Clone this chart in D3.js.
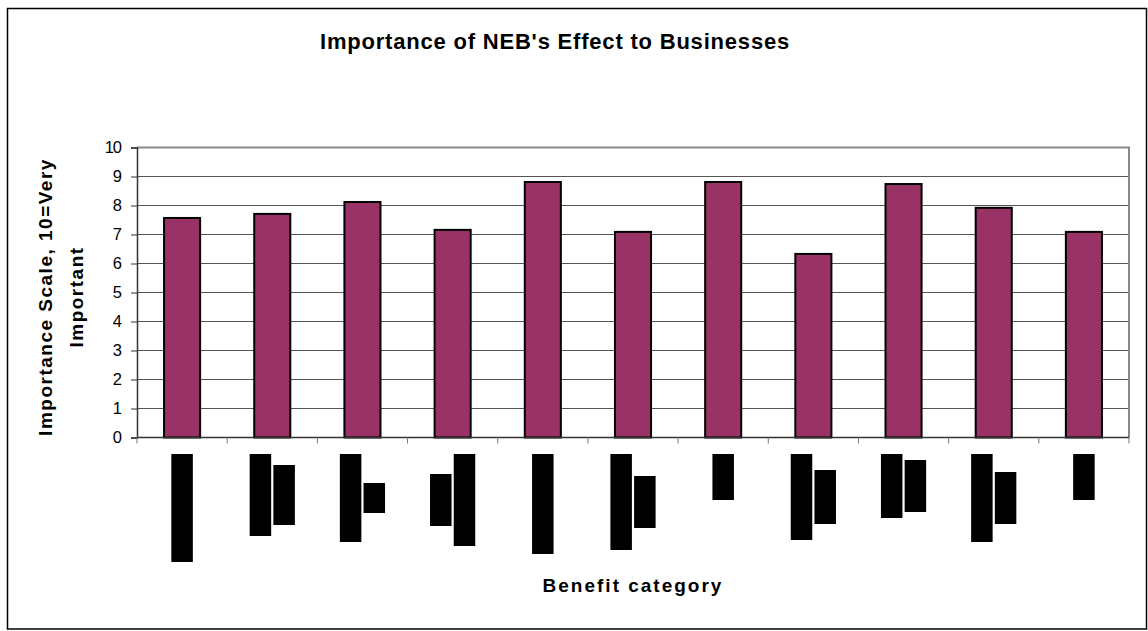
<!DOCTYPE html>
<html><head><meta charset="utf-8">
<script src="https://cdn.jsdelivr.net/npm/d3@7"></script>
<style>
html,body{margin:0;padding:0;background:#fff;}
text{font-family:"Liberation Sans",Arial,sans-serif;}
</style></head>
<body>
<svg id="chart" width="1148" height="631"></svg>
<script>
// ---- data ----
const title = "Importance of NEB's Effect to Businesses";
const yAxisTitle = ["Importance Scale, 10=Very", "Important"];
const xAxisTitle = "Benefit category";
const categories = ["C1","C2","C3","C4","C5","C6","C7","C8","C9","C10","C11"];
const values = [7.57, 7.71, 8.12, 7.16, 8.81, 7.09, 8.81, 6.33, 8.74, 7.92, 7.09];
const yTicks = [0,1,2,3,4,5,6,7,8,9,10];
// category labels are redacted in the source: relative length of each (rotated) label line
const redactedLabelLines = [
  [108], [82, 60], [88, 30], [52, 92], [100], [96, 52], [46], [86, 54], [64, 52], [88, 52], [46]
];

// ---- layout ----
const svg = d3.select("#chart");
const plot = {left: 137, right: 1129, top: 147.5, bottom: 437.5};

svg.append("rect").attr("x", 7.5).attr("y", 8.5).attr("width", 1139).attr("height", 620.5)
  .attr("fill", "#fff").attr("stroke", "#000").attr("stroke-width", 1.5);

const x = d3.scaleBand().domain(categories).range([plot.left, plot.right])
  .paddingInner(0.6).paddingOuter(0.3);
const y = d3.scaleLinear().domain([0, 10]).range([plot.bottom, plot.top]);

// gridlines
svg.append("g").selectAll("line").data(yTicks.filter(t => t > 0)).join("line")
  .attr("x1", plot.left).attr("x2", plot.right)
  .attr("y1", d => y(d)).attr("y2", d => y(d))
  .attr("stroke", "#555").attr("stroke-width", 1);

// plot border (top/right)
svg.append("path")
  .attr("d", `M${plot.left},${plot.top}H${plot.right}V${plot.bottom}`)
  .attr("fill", "none").attr("stroke", "#888").attr("stroke-width", 2);

// bars
svg.append("g").selectAll("rect").data(values).join("rect")
  .attr("x", (d, i) => x(categories[i]))
  .attr("y", d => y(d))
  .attr("width", x.bandwidth())
  .attr("height", d => y(0) - y(d))
  .attr("fill", "#993366").attr("stroke", "#000").attr("stroke-width", 2);

// y axis
const yAxis = d3.axisLeft(y).tickValues(yTicks).tickSize(6).tickPadding(10).tickFormat(d3.format("d"));
const gy = svg.append("g").attr("transform", `translate(${plot.left},0)`).call(yAxis);
gy.select(".domain").attr("stroke", "#333").attr("stroke-width", 1.5);
gy.selectAll(".tick line").attr("stroke", "#333");
gy.selectAll(".tick text").attr("font-size", 16.5).attr("fill", "#000").attr("letter-spacing", -1)
  .attr("font-family", "'Liberation Sans',Arial,sans-serif");

// x axis (category boundary ticks)
const boundaries = d3.range(categories.length + 1).map(i => plot.left + i * x.step());
const gx = svg.append("g");
gx.append("line").attr("x1", plot.left).attr("x2", plot.right)
  .attr("y1", plot.bottom).attr("y2", plot.bottom).attr("stroke", "#333").attr("stroke-width", 1.5);
gx.selectAll("line.t").data(boundaries).join("line").attr("class", "t")
  .attr("x1", d => d).attr("x2", d => d).attr("y1", plot.bottom).attr("y2", plot.bottom + 6)
  .attr("stroke", "#777").attr("stroke-width", 1);

// redacted category labels
const lineW = 21.5, pitch = 23.7, labelTop = 454;
categories.forEach((c, i) => {
  const lines = redactedLabelLines[i];
  const maxL = d3.max(lines);
  const cx = x(c) + x.bandwidth() / 2;
  const total = lines.length * pitch - (pitch - lineW);
  lines.forEach((L, j) => {
    svg.append("rect")
      .attr("x", cx - total / 2 + j * pitch)
      .attr("y", labelTop + (maxL - L) / 2)
      .attr("width", lineW).attr("height", L)
      .attr("fill", "#000");
  });
});

// titles
svg.append("text").attr("x", 555).attr("y", 49).attr("text-anchor", "middle")
  .attr("font-size", 22).attr("font-weight", "bold").attr("letter-spacing", 0.8).text(title);

svg.append("text").attr("x", 633).attr("y", 592).attr("text-anchor", "middle")
  .attr("font-size", 19).attr("font-weight", "bold").attr("letter-spacing", 2).text(xAxisTitle);

const yt = svg.append("text").attr("transform", "translate(0,297) rotate(-90)")
  .attr("text-anchor", "middle").attr("font-size", 19).attr("font-weight", "bold")
  .attr("letter-spacing", 1.5);
yt.append("tspan").attr("x", 0).attr("y", 52).text(yAxisTitle[0]);
yt.append("tspan").attr("x", 0).attr("y", 83).text(yAxisTitle[1]);
</script>
</body></html>
